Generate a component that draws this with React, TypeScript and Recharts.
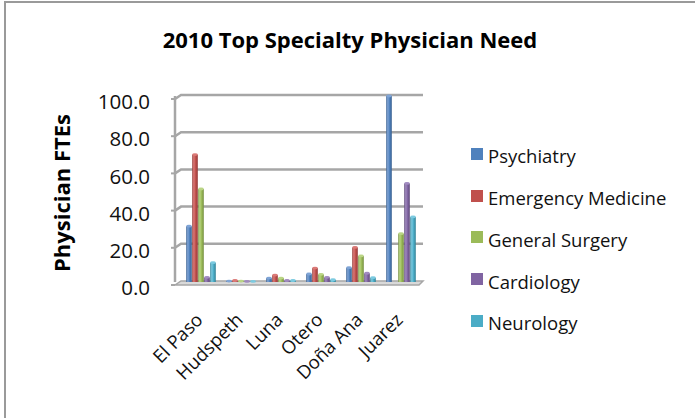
import React from 'react';
import { BarChart, Bar, XAxis, YAxis, CartesianGrid, Legend } from 'recharts';

// Physician FTE need by county / city, 2010
const categories = ['El Paso', 'Hudspeth', 'Luna', 'Otero', 'Doña Ana', 'Juarez'];
const psychiatry = [30, 0.5, 2.1, 4.3, 7.7, 100];
const emergencyMedicine = [68.5, 0.8, 3.7, 7.5, 18.6, null];
const generalSurgery = [50, 0.5, 2.1, 4.1, 14, 26];
const cardiology = [2.5, 0.3, 0.8, 2.5, 4.7, 53];
const neurology = [10.4, 0.3, 0.8, 1.2, 2.3, 35];
const yTicks = [0, 20, 40, 60, 80, 100];

const SERIES = [
  { key: 'psychiatry', name: 'Psychiatry', color: '#4F81BD', dark: '#3A6190', light: '#7FA4D6', values: psychiatry },
  { key: 'emergency', name: 'Emergency Medicine', color: '#C0504D', dark: '#933A38', light: '#DB7A77', values: emergencyMedicine },
  { key: 'surgery', name: 'General Surgery', color: '#9BBB59', dark: '#768F42', light: '#BAD585', values: generalSurgery },
  { key: 'cardiology', name: 'Cardiology', color: '#8064A2', dark: '#5F4A7A', light: '#A18BC0', values: cardiology },
  { key: 'neurology', name: 'Neurology', color: '#4BACC6', dark: '#358296', light: '#7CCAE0', values: neurology },
];

const data = categories.map((name, i) => {
  const row: Record<string, any> = { name };
  SERIES.forEach((s) => {
    row[s.key] = s.values[i];
  });
  return row;
});

const FONT = '"Open Sans", sans-serif';
const W = 695;
const H = 418;
const MARGIN = { top: 96, right: 274, bottom: 0, left: 55 };
const Y_AXIS_WIDTH = 120;
const AXIS_X = MARGIN.left + Y_AXIS_WIDTH; // left wall of the plot
const WALL_DEPTH = 6;
const GRID = '#a6a6a6';

// Cylinder-like bar with a shaded body and a light cap
const Cylinder = (props: any) => {
  const { x, y, width, height, value, sKey, light } = props;
  if (value == null || x == null) return null;
  const h = Math.max(height || 0, 0);
  return (
    <g>
      <rect x={x + 0.2} y={y} width={width - 0.4} height={h} fill={`url(#grad-${sKey})`} />
      <ellipse cx={x + width / 2} cy={y} rx={width / 2 - 0.2} ry={1.4} fill={light} />
    </g>
  );
};

const GridLine = (p: any) => {
  const { x1, x2, y1 } = p;
  const plotBottom = H - 136;
  if (Math.abs(y1 - plotBottom) < 0.5) {
    return (
      <g key={p.key}>
        <polygon
          points={`${x1},${y1 + 3} ${x1 + WALL_DEPTH},${y1 - 1} ${x2 + 2},${y1 - 1} ${x2 - 2},${y1 + 3}`}
          fill="#d9d9d9"
          stroke={GRID}
          strokeWidth={1.5}
        />
      </g>
    );
  }
  return (
    <polyline
      key={p.key}
      points={`${x1},${y1 + 3} ${x1 + WALL_DEPTH},${y1 - 1} ${x2 + 2},${y1 - 1}`}
      fill="none"
      stroke={GRID}
      strokeWidth={2.5}
    />
  );
};

const YTick = (props: any) => {
  const { y, payload } = props;
  return (
    <g>
      <line x1={AXIS_X - 4} x2={AXIS_X} y1={y + 3} y2={y + 3} stroke={GRID} strokeWidth={2} />
      <text
        x={AXIS_X - 25}
        y={y + 6}
        dy="0.355em"
        textAnchor="end"
        fontFamily={FONT}
        fontSize={20.5}
        fill="#111"
      >
        {Number(payload.value).toFixed(1)}
      </text>
    </g>
  );
};

const XTick = (props: any) => {
  const { x, y, payload } = props;
  const ax = x + 3;
  const ay = y + 39;
  return (
    <text
      x={ax}
      y={ay}
      textAnchor="end"
      transform={`rotate(-45, ${ax}, ${ay})`}
      fontFamily={FONT}
      fontSize={18.5}
      fill="#111"
    >
      {payload.value}
    </text>
  );
};

const seriesOrder = (name: string) => SERIES.findIndex((s) => s.name === name);

const LegendContent = (props: any) => {
  const items = [...(props.payload || [])].sort(
    (a: any, b: any) => seriesOrder(a.value) - seriesOrder(b.value)
  );
  return (
    <div style={{ fontFamily: FONT, fontSize: 18.5, color: '#111' }}>
      {items.map((it: any) => (
        <div key={it.value} style={{ height: 41.75, display: 'flex', alignItems: 'center' }}>
          <span style={{ width: 12, height: 12, background: it.color, marginRight: 5, display: 'inline-block' }} />
          <span style={{ position: 'relative', top: 2, whiteSpace: 'nowrap' }}>{it.value}</span>
        </div>
      ))}
    </div>
  );
};

export default function App() {
  return (
    <div style={{ position: 'absolute', left: 0, top: 0, width: W, height: H, background: '#fff', overflow: 'hidden' }}>
      <div
        style={{
          position: 'absolute',
          left: 4,
          top: 1,
          width: W,
          height: H,
          borderTop: '2px solid #9a9a9a',
          borderLeft: '2px solid #9a9a9a',
        }}
      />
      <svg width={W} height={H} style={{ position: 'absolute', left: 0, top: 0, pointerEvents: 'none' }}>
        <defs>
          {SERIES.map((s) => (
            <linearGradient key={s.key} id={`grad-${s.key}`} x1="0" y1="0" x2="1" y2="0">
              <stop offset="0%" stopColor={s.dark} />
              <stop offset="28%" stopColor={s.light} />
              <stop offset="60%" stopColor={s.color} />
              <stop offset="100%" stopColor={s.dark} />
            </linearGradient>
          ))}
        </defs>
        <text x={350} y={48} textAnchor="middle" fontFamily={FONT} fontWeight="bold" fontSize={22} fill="#000">
          2010 Top Specialty Physician Need
        </text>
        <text
          x={0}
          y={0}
          transform="translate(70, 193) rotate(-90)"
          textAnchor="middle"
          fontFamily={FONT}
          fontWeight="bold"
          fontSize={22}
          fill="#000"
        >
          Physician FTEs
        </text>
      </svg>
      <div style={{ position: 'absolute', left: 0, top: 0 }}>
        <BarChart
          width={W}
          height={H}
          data={data}
          margin={MARGIN}
          barCategoryGap={5}
          barGap={0}
        >
          <CartesianGrid vertical={false} horizontal={GridLine as any} />
          <XAxis
            dataKey="name"
            height={136}
            axisLine={false}
            tickLine={false}
            tickSize={0}
            tickMargin={0}
            interval={0}
            padding={{ left: WALL_DEPTH, right: 0 }}
            tick={<XTick />}
          />
          <YAxis
            width={Y_AXIS_WIDTH}
            domain={[0, 100]}
            ticks={yTicks}
            axisLine={{ stroke: GRID, strokeWidth: 2.5 }}
            tickLine={false}
            tickSize={0}
            tickMargin={0}
            tick={<YTick />}
            interval={0}
          />
          <Legend
            layout="vertical"
            align="center"
            verticalAlign="middle"
            wrapperStyle={{ left: 471, top: 133, width: 224 }}
            content={<LegendContent />}
          />
          {SERIES.map((s) => (
            <Bar
              key={s.key}
              dataKey={s.key}
              name={s.name}
              fill={s.color}
              isAnimationActive={false}
              shape={(p: any) => <Cylinder {...p} sKey={s.key} light={s.light} />}
            />
          ))}
        </BarChart>
      </div>
    </div>
  );
}
